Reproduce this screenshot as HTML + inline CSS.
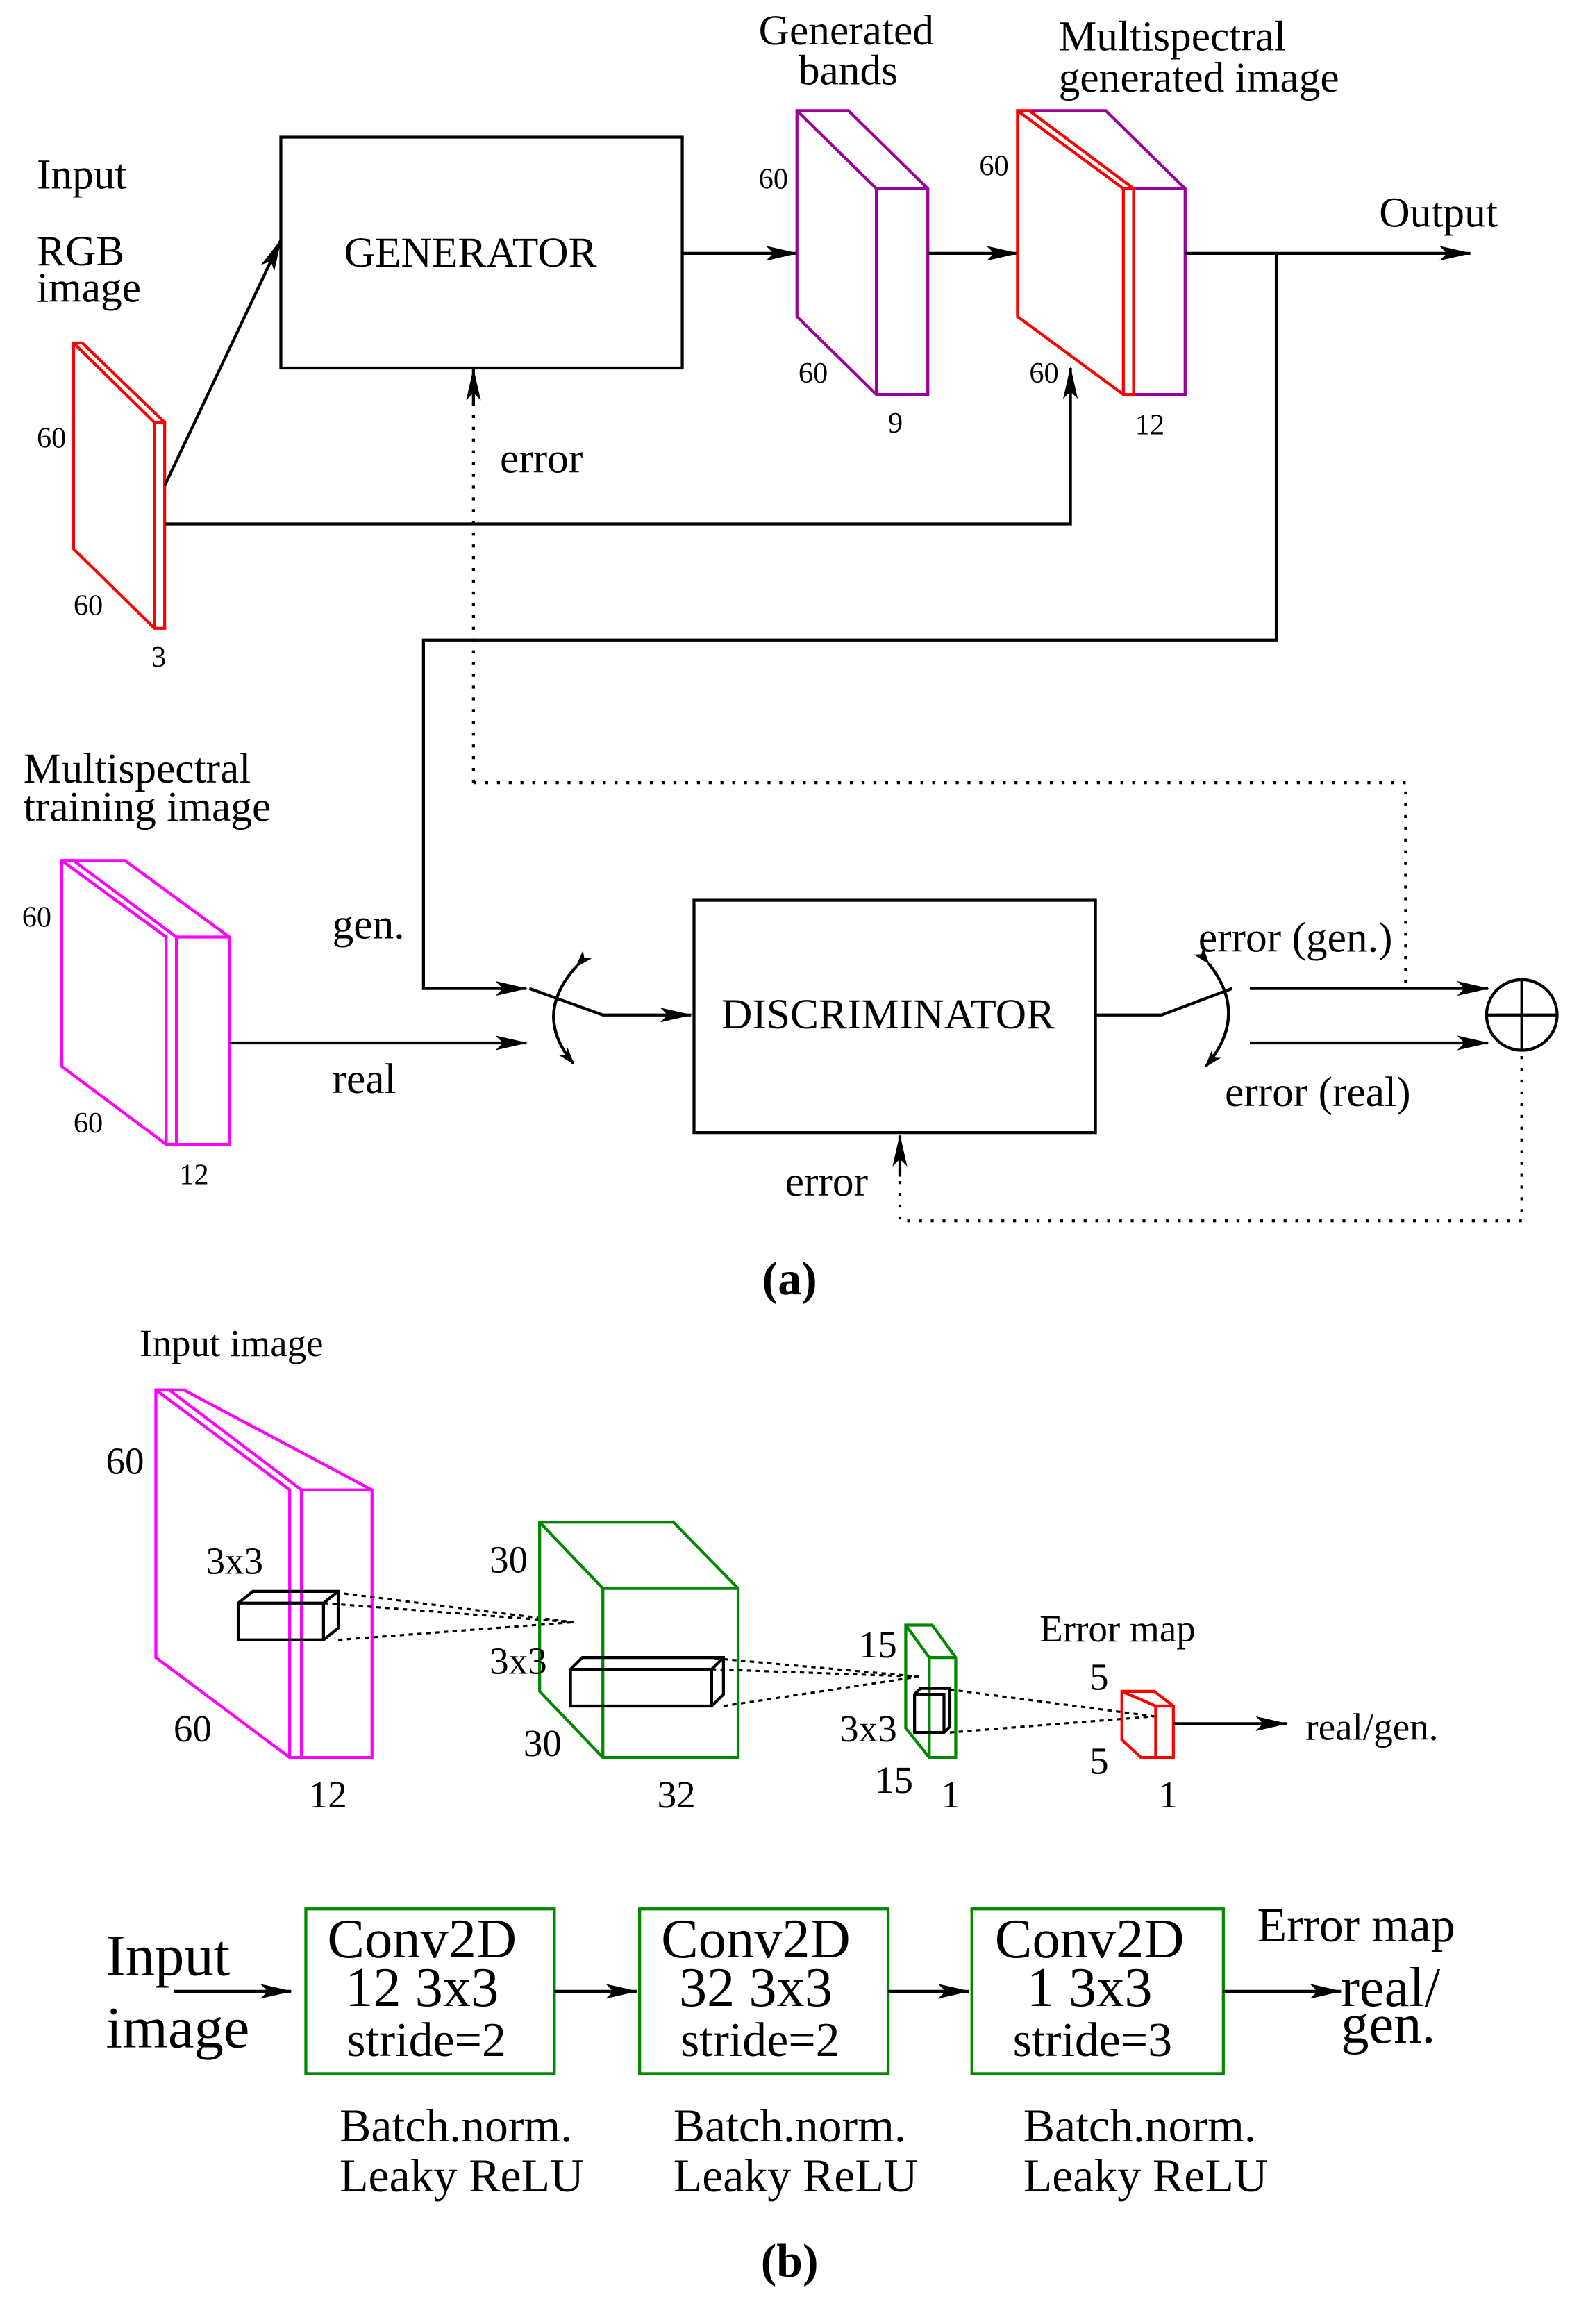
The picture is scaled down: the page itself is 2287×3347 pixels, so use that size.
<!DOCTYPE html>
<html><head><meta charset="utf-8"><style>
html,body{margin:0;padding:0;background:#fff;}
svg{display:block;}
text{font-family:"Liberation Serif",serif;fill:#000;}
</style></head><body>
<svg width="2287" height="3347" viewBox="0 0 1080 1580" xmlns="http://www.w3.org/2000/svg">
<defs>
<marker id="ah" markerWidth="12" markerHeight="8" refX="11" refY="4" orient="auto" markerUnits="userSpaceOnUse" viewBox="0 0 12 8">
<path d="M0,0 L12,4 L0,8 L3,4 Z" fill="#000"/></marker>
<marker id="ah2" markerWidth="22" markerHeight="10" refX="21" refY="5" orient="auto" markerUnits="userSpaceOnUse" viewBox="0 0 22 10">
<path d="M0,0 L22,5 L0,10 L5,5 Z" fill="#000"/></marker>
</defs>
<g fill="none" stroke-width="2">
<path d="M50,233 L56,233 L112,287 L112,427 L105,427 L50,373 Z M50,233 L105,287 L105,427 M105,287 L112,287" stroke="#f00"/>
<rect x="191" y="93" width="273" height="157" stroke="#000"/>
<line x1="112" y1="330" x2="191" y2="163" stroke="#000" marker-end="url(#ah2)"/>
<line x1="464" y1="172" x2="542" y2="172" stroke="#000" marker-end="url(#ah2)"/>
<path d="M542,75 L577,75 L631,128 L631,268 L596,268 L542,215 Z M542,75 L596,128 L596,268 M596,128 L631,128" stroke="#909"/>
<line x1="631" y1="172" x2="692" y2="172" stroke="#000" marker-end="url(#ah2)"/>
<path d="M700,75 L752,75 L806,128 L806,268 L771,268 M771,128 L806,128 M771,128 L771,268" stroke="#909"/>
<path d="M692,75 L700,75 L771,128 L771,268 L764,268 L692,215 Z M692,75 L764,128 L764,268 M764,128 L771,128" stroke="#f00"/>
<line x1="806" y1="172" x2="1000" y2="172" stroke="#000" marker-end="url(#ah2)"/>
<polyline points="112,356 728,356 728,250" stroke="#000" marker-end="url(#ah2)"/>
<polyline points="868,172 868,435 288,435 288,672 358,672" stroke="#000" marker-end="url(#ah2)"/>
<polyline points="322,532 956,532 956,672" stroke="#000" stroke-dasharray="2,6"/>
<line x1="322" y1="532" x2="322" y2="270" stroke="#000" stroke-dasharray="2,6"/>
<line x1="322" y1="275" x2="322" y2="251" stroke="#000" marker-end="url(#ah2)"/>
<path d="M42,585 L85,585 L156,637 L156,778 L120,778 M120,637 L156,637 M120,637 L120,778" stroke="#f0f"/>
<path d="M42,585 L50,585 L120,637 L120,778 L113,778 L42,725 Z M42,585 L113,637 L113,778" stroke="#f0f"/>
<line x1="156" y1="709" x2="358" y2="709" stroke="#000" marker-end="url(#ah2)"/>
<polyline points="360,672 410,690 470,690" stroke="#000" marker-end="url(#ah2)"/>
<path d="M392,657 Q362,690 390,723" stroke="#000" marker-start="url(#ah)" marker-end="url(#ah)"/>
<rect x="472" y="612" width="273" height="158" stroke="#000"/>
<polyline points="745,690 790,690 838,672" stroke="#000"/>
<path d="M822,655 Q850,690 820,725" stroke="#000" marker-start="url(#ah)" marker-end="url(#ah)"/>
<line x1="850" y1="672" x2="1012" y2="672" stroke="#000" marker-end="url(#ah2)"/>
<line x1="850" y1="709" x2="1012" y2="709" stroke="#000" marker-end="url(#ah2)"/>
<circle cx="1035" cy="690" r="24" stroke="#000"/>
<path d="M1011,690 L1059,690 M1035,666 L1035,714" stroke="#000"/>
<polyline points="1035,718 1035,830 612,830 612,790" stroke="#000" stroke-dasharray="2,6"/>
<line x1="612" y1="800" x2="612" y2="772" stroke="#000" marker-end="url(#ah2)"/>

<path d="M106,945 L125,945 L253,1013 L253,1195 L205,1195 M205,1013 L253,1013 M205,1013 L205,1195" stroke="#f0f"/>
<path d="M106,945 L115,945 L205,1013 L205,1195 L197,1195 L106,1127 Z M106,945 L197,1013 L197,1195" stroke="#f0f"/>
<path d="M162,1090 L172,1082 L230,1082 L230,1107 L220,1115 L162,1115 Z M162,1090 L220,1090 L220,1115 M220,1090 L230,1082" stroke="#000"/>
<path d="M222,1082 L390,1103 M230,1115 L390,1103 M220,1090 L390,1103" stroke="#000" stroke-dasharray="3,3" stroke-width="1.5"/>
<path d="M367,1035 L458,1035 L502,1080 L502,1195 L410,1195 L367,1150 Z M367,1035 L410,1080 L502,1080 M410,1080 L410,1195" stroke="#080"/>
<path d="M388,1135 L396,1127 L492,1127 L492,1152 L484,1160 L388,1160 Z M388,1135 L484,1135 L484,1160 M484,1135 L492,1127" stroke="#000"/>
<path d="M480,1127 L625,1140 M492,1160 L625,1140 M484,1135 L625,1140" stroke="#000" stroke-dasharray="3,3" stroke-width="1.5"/>
<path d="M616,1105 L634,1105 L650,1127 L650,1195 L632,1195 L616,1175 Z M616,1105 L632,1127 L650,1127 M632,1127 L632,1195" stroke="#080"/>
<path d="M622,1152 L626,1148 L646,1148 L646,1174 L642,1178 L622,1178 Z M622,1152 L642,1152 L642,1178" stroke="#000"/>
<path d="M640,1148 L785,1167 M646,1178 L785,1167" stroke="#000" stroke-dasharray="3,3" stroke-width="1.5"/>
<path d="M763,1150 L785,1150 L798,1160 L798,1195 L776,1195 L763,1183 Z M763,1150 L786,1160 L798,1160 M786,1160 L786,1195" stroke="#f00"/>
<line x1="798" y1="1172" x2="875" y2="1172" stroke="#000" marker-end="url(#ah2)"/>

<rect x="208" y="1298" width="169" height="112" stroke="#080"/>
<rect x="435" y="1298" width="169" height="112" stroke="#080"/>
<rect x="661" y="1298" width="171" height="112" stroke="#080"/>
<line x1="118" y1="1354" x2="198" y2="1354" stroke="#000" marker-end="url(#ah2)"/>
<line x1="377" y1="1354" x2="433" y2="1354" stroke="#000" marker-end="url(#ah2)"/>
<line x1="604" y1="1354" x2="659" y2="1354" stroke="#000" marker-end="url(#ah2)"/>
<line x1="832" y1="1354" x2="912" y2="1354" stroke="#000" marker-end="url(#ah2)"/>
</g>

<g font-size="29">
<text x="25" y="128">Input</text>
<text x="25" y="180">RGB</text>
<text x="25" y="205">image</text>
<text x="320" y="181" text-anchor="middle">GENERATOR</text>
<text x="516" y="30">Generated</text>
<text x="543" y="57">bands</text>
<text x="720" y="34">Multispectral</text>
<text x="720" y="62">generated image</text>
<text x="938" y="154">Output</text>
<text x="340" y="321">error</text>
<text x="16" y="532">Multispectral</text>
<text x="16" y="558">training image</text>
<text x="226" y="638">gen.</text>
<text x="226" y="743">real</text>
<text x="604" y="699" text-anchor="middle">DISCRIMINATOR</text>
<text x="815" y="647">error (gen.)</text>
<text x="833" y="752">error (real)</text>
<text x="534" y="813">error</text>
<text x="95" y="922" font-size="26">Input image</text>
<text x="707" y="1116" font-size="26">Error map</text>
<text x="888" y="1183" font-size="26">real/gen.</text>
</g>
<g font-size="20">
<text x="25" y="304">60</text><text x="50" y="418">60</text><text x="103" y="453">3</text>
<text x="516" y="128">60</text><text x="543" y="260">60</text><text x="604" y="294">9</text>
<text x="666" y="119">60</text><text x="700" y="260">60</text><text x="772" y="295">12</text>
<text x="15" y="630">60</text><text x="50" y="770">60</text><text x="122" y="805">12</text>
</g>
<g font-size="26">
<text x="72" y="1002">60</text><text x="118" y="1184">60</text><text x="210" y="1229">12</text>
<text x="140" y="1070">3x3</text>
<text x="333" y="1069">30</text><text x="333" y="1138">3x3</text><text x="356" y="1194">30</text><text x="447" y="1229">32</text>
<text x="584" y="1127">15</text><text x="571" y="1184">3x3</text><text x="595" y="1219">15</text><text x="640" y="1229">1</text>
<text x="741" y="1149">5</text><text x="741" y="1206">5</text><text x="788" y="1229">1</text>
</g>
<text x="537" y="880" font-size="32" text-anchor="middle" font-weight="bold">(a)</text>
<text x="537" y="1548" font-size="32" text-anchor="middle" font-weight="bold">(b)</text>
<g font-size="38" text-anchor="middle">
<text x="287" y="1331">Conv2D</text><text x="287" y="1364">12 3x3</text><text x="290" y="1398" font-size="33">stride=2</text>
<text x="514" y="1331">Conv2D</text><text x="514" y="1364">32 3x3</text><text x="517" y="1398" font-size="33">stride=2</text>
<text x="741" y="1331">Conv2D</text><text x="741" y="1364">1 3x3</text><text x="743" y="1398" font-size="33">stride=3</text>
</g>
<g font-size="32">
<text x="72" y="1343" font-size="40">Input</text>
<text x="72" y="1392" font-size="40">image</text>
<text x="855" y="1320" font-size="33">Error map</text>
<text x="912" y="1364" font-size="38">real/</text>
<text x="912" y="1389" font-size="38">gen.</text>
<text x="231" y="1456">Batch.norm.</text><text x="231" y="1490">Leaky ReLU</text>
<text x="458" y="1456">Batch.norm.</text><text x="458" y="1490">Leaky ReLU</text>
<text x="696" y="1456">Batch.norm.</text><text x="696" y="1490">Leaky ReLU</text>
</g>
</svg>
</body></html>
